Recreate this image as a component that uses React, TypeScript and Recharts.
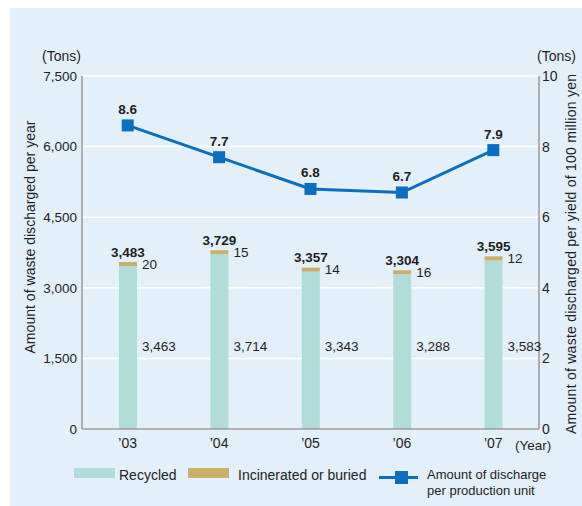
import { ComposedChart, Bar, Line, XAxis, YAxis, CartesianGrid, LabelList } from "recharts";

const years = ["’03", "’04", "’05", "’06", "’07"];
const recycled = [3463, 3714, 3343, 3288, 3583];
const incinerated = [20, 15, 14, 16, 12];
const perUnit = [8.6, 7.7, 6.8, 6.7, 7.9];
const leftTicks = [0, 1500, 3000, 4500, 6000, 7500];
const rightTicks = [0, 2, 4, 6, 8, 10];

const data = years.map((year, i) => ({
  year,
  recycled: recycled[i],
  incinerated: incinerated[i],
  total: recycled[i] + incinerated[i],
  perUnit: perUnit[i],
}));

const FONT = "'Liberation Sans', Arial, Helvetica, sans-serif";
const TEAL = "#b1ddd9";
const TAN = "#c9b16b";
const BLUE = "#0a6fc1";
const AXIS = "#9a9a9a";
const TEXT = "#1e1e1e";

const fmt = (v: number) => v.toLocaleString("en-US");

function SquareDot(props: any) {
  const { cx, cy } = props;
  if (cx == null || cy == null) return null;
  return <rect x={cx - 6} y={cy - 6} width={12} height={12} fill={BLUE} />;
}

// recycled values sit at the same height next to every bar
function RecycledLabel(props: any) {
  const { x, y, width, height, value } = props;
  return (
    <text x={x + width + 5} y={y + height - 83} dominantBaseline="central" fontSize={13.5} fill={TEXT}>
      {fmt(value)}
    </text>
  );
}

function SideLabel(props: any) {
  const { x, y, width, height, value } = props;
  return (
    <text x={x + width + 5} y={y + height / 2} dominantBaseline="central" fontSize={13.5} fill={TEXT}>
      {fmt(value)}
    </text>
  );
}

function TotalLabel(props: any) {
  const { x, y, width, index } = props;
  return (
    <text x={x + width / 2} y={y - 10} textAnchor="middle" dominantBaseline="central" fontSize={13.5} fontWeight="bold" fill={TEXT}>
      {fmt(data[index].total)}
    </text>
  );
}

function PointLabel(props: any) {
  const { x, y, value } = props;
  return (
    <text x={x} y={y - 16} textAnchor="middle" dominantBaseline="central" fontSize={13.5} fontWeight="bold" fill={TEXT}>
      {value.toFixed(1)}
    </text>
  );
}

export default function App() {
  return (
    <div style={{ position: "absolute", left: 10, top: 8, width: 572, height: 498, background: "#e3f0f9", fontFamily: FONT }}>
      <ComposedChart width={572} height={498} data={data} margin={{ top: 68, right: 0, bottom: 47, left: 0 }} style={{ fontFamily: FONT }}>
        <CartesianGrid yAxisId="left" vertical={false} stroke="#ffffff" strokeWidth={1.5} />
        <XAxis
          dataKey="year"
          height={30}
          tickSize={0}
          tickMargin={9}
          axisLine={{ stroke: AXIS, strokeWidth: 1.5 }}
          tick={{ fontSize: 14, fill: TEXT }}
        />
        <YAxis
          yAxisId="left"
          width={72}
          domain={[0, 7500]}
          ticks={leftTicks}
          tickFormatter={fmt}
          tickSize={0}
          tickMargin={5}
          axisLine={{ stroke: AXIS, strokeWidth: 1.5 }}
          tick={{ fontSize: 13.5, fill: TEXT }}
        />
        <YAxis
          yAxisId="right"
          orientation="right"
          width={43}
          domain={[0, 10]}
          ticks={rightTicks}
          tickSize={0}
          tickMargin={3}
          axisLine={{ stroke: AXIS, strokeWidth: 1.5 }}
          tick={{ fontSize: 14, fill: TEXT }}
        />
        <Bar yAxisId="left" dataKey="recycled" stackId="a" fill={TEAL} barSize={18} isAnimationActive={false}>
          <LabelList dataKey="recycled" content={RecycledLabel} />
        </Bar>
        <Bar yAxisId="left" dataKey="incinerated" stackId="a" fill={TAN} barSize={18} minPointSize={4} isAnimationActive={false}>
          <LabelList dataKey="incinerated" content={SideLabel} />
          <LabelList dataKey="total" content={TotalLabel} />
        </Bar>
        <Line yAxisId="right" dataKey="perUnit" stroke={BLUE} strokeWidth={3} dot={<SquareDot />} activeDot={false} isAnimationActive={false}>
          <LabelList dataKey="perUnit" content={PointLabel} />
        </Line>
      </ComposedChart>

      <svg width={572} height={498} style={{ position: "absolute", left: 0, top: 0, pointerEvents: "none", fontFamily: FONT }}>
        <text x={71} y={48} textAnchor="end" dominantBaseline="central" fontSize={14} fill={TEXT}>(Tons)</text>
        <text x={566} y={48} textAnchor="end" dominantBaseline="central" fontSize={14} fill={TEXT}>(Tons)</text>
        <text x={505} y={437} dominantBaseline="central" fontSize={13.5} fill={TEXT}>(Year)</text>
        <text transform="translate(20,229) rotate(-90)" textAnchor="middle" dominantBaseline="central" fontSize={14} textLength={233} lengthAdjust="spacing" fill={TEXT}>
          Amount of waste discharged per year
        </text>
        <text transform="translate(561,246) rotate(-90)" textAnchor="middle" dominantBaseline="central" fontSize={14} textLength={360} lengthAdjust="spacing" fill={TEXT}>
          Amount of waste discharged per yield of 100 million yen
        </text>

        <rect x={64} y={460} width={41} height={10} fill={TEAL} />
        <text x={109} y={467} dominantBaseline="central" fontSize={14} fill={TEXT}>Recycled</text>
        <rect x={178} y={460} width={41} height={10} fill={TAN} />
        <text x={228} y={467} dominantBaseline="central" fontSize={14} fill={TEXT}>Incinerated or buried</text>
        <line x1={369} x2={408} y1={469.5} y2={469.5} stroke={BLUE} strokeWidth={3} />
        <rect x={385} y={463} width={13} height={13} fill={BLUE} />
        <text x={417} y={466.5} dominantBaseline="central" fontSize={13} fill={TEXT}>Amount of discharge</text>
        <text x={417} y={482} dominantBaseline="central" fontSize={13} fill={TEXT}>per production unit</text>
      </svg>
    </div>
  );
}
